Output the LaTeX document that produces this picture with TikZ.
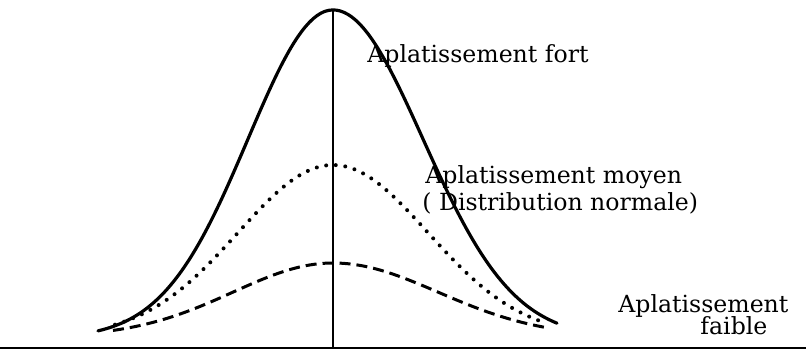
\documentclass[tikz,border=0pt]{standalone}
\usepackage{fontspec}
\setmainfont{DejaVu Serif}
\usetikzlibrary{positioning}

\tikzset{
  fortline/.style={line width=1.6pt, line cap=round},
  moyenline/.style={line width=2pt, line cap=round, dash pattern=on 0pt off 4.8pt},
  faibleline/.style={line width=1.5pt, dash pattern=on 5.5pt off 3pt},
  lbl/.style={font=\fontsize{11.8}{13}\selectfont, inner sep=0pt, anchor=base west}
}

\begin{document}
\begin{tikzpicture}[x=0.5pt, y=-0.5pt, samples=60, smooth]
  \useasboundingbox (0,0) rectangle (810,350);

  % axes
  \draw[line width=1.1pt] (0,348) -- (806,348);
  \draw[line width=0.9pt] (333,10) -- (333,348);

  % courbes (x en centaines de pixels autour de l'axe)
  \draw[fortline]
    plot[domain=-2.35:0] ({333+100*\x},{338-328*exp(-(\x)^2/(2*0.85^2))})
    -- plot[domain=0:2.24] ({333+100*\x},{338-328*exp(-(\x)^2/(2*0.9^2))});
  \draw[moyenline]
    plot[domain=-2.18:2.1] ({333+100*\x},{337-172*exp(-(\x)^2/(2*0.95^2))});
  \draw[faibleline]
    plot[domain=-2.2:0] ({333+100*\x},{337-74*exp(-(\x)^2/(2*1.0^2))})
    -- plot[domain=0:2.14] ({333+100*\x},{337-74*exp(-(\x)^2/(2*1.05^2))});

  % textes
  \node[lbl] (fort) at (367,62) {Aplatissement fort};
  \node[lbl] (moyen) at (425,183) {Aplatissement moyen};
  \node[lbl] (normale) at (422,210) {( Distribution normale)};
  \node[lbl] (faible) at (618,312) {Aplatissement};
  \node[lbl] (faible2) at (700,334) {faible};
\end{tikzpicture}
\end{document}
